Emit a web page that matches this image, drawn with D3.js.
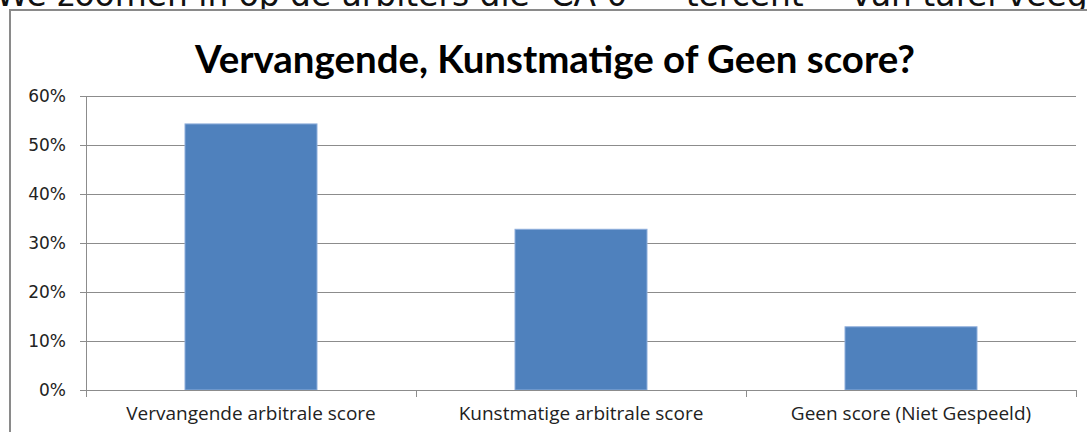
<!DOCTYPE html>
<html>
<head>
<meta charset="utf-8">
<script src="https://cdn.jsdelivr.net/npm/d3@7"></script>
<style>
  html, body { margin: 0; padding: 0; background: #fff; overflow: hidden; }
  svg { display: block; }
</style>
</head>
<body>
<div id="chart"></div>
<script>
;(function() {
  "use strict";

  // Data
  // ---------------------------------------------------------------------------
  var categories = ["Vervangende arbitrale score", "Kunstmatige arbitrale score", "Geen score (Niet Gespeeld)"];
  var shares = [0.543, 0.328, 0.129];
  var yTicks = [0, 0.1, 0.2, 0.3, 0.4, 0.5, 0.6];
  var title = "Vervangende, Kunstmatige of Geen score?";
  var pageLine = "We zoomen in op de arbiters die \u2018CA 0\u2019 \u2013 \u2018tercent\u2019 \u2013 van tafel veegt";

  // Dimensions
  // ---------------------------------------------------------------------------
  var width = 1087, height = 432;
  var plot = { left: 86, right: 1076, top: 96, bottom: 390 };

  var svg = d3.select("#chart").append("svg")
    .attr("width", width)
    .attr("height", height);

  svg.append("rect")
    .attr("width", width).attr("height", height)
    .attr("fill", "#fff");

  // Cropped line of document text above the chart (cut off in the original too)
  var p = svg.append("text")
    .attr("x", -4)
    .attr("y", 6)
    .attr("font-family", "DejaVu Sans")
    .attr("font-size", 28)
    .attr("fill", "#111")
    .text(pageLine);
  var pw = p.node().getComputedTextLength();
  p.attr("font-size", 28 * 1105 / pw);

  // Chart frame
  svg.append("rect")
    .attr("x", 10).attr("y", 10)
    .attr("width", 1200).attr("height", 600)
    .attr("fill", "#fff")
    .attr("stroke", "#8a8a8a")
    .attr("stroke-width", 2);

  // Title
  var t = svg.append("text")
    .attr("x", 555)
    .attr("y", 73)
    .attr("text-anchor", "middle")
    .attr("font-family", "Lato")
    .attr("font-weight", "bold")
    .attr("font-size", 33)
    .attr("fill", "#000")
    .text(title);
  var tw = t.node().getComputedTextLength();
  t.attr("font-size", 33 * 720 / tw);

  // Scales
  // ---------------------------------------------------------------------------
  var x = d3.scaleBand()
    .domain(categories)
    .range([plot.left, plot.right])
    .paddingInner(0.6)
    .paddingOuter(0.3);

  var y = d3.scaleLinear()
    .domain([0, 0.6])
    .range([plot.bottom, plot.top]);

  // Gridlines + y axis
  var yAxis = d3.axisLeft(y)
    .tickValues(yTicks)
    .tickSize(-(plot.right - plot.left))
    .tickPadding(14)
    .tickFormat(d3.format(".0%"));

  var gy = svg.append("g")
    .attr("transform", "translate(" + plot.left + ",0)")
    .call(yAxis);
  gy.select(".domain").remove();
  gy.selectAll(".tick line")
    .attr("x1", -6)
    .attr("stroke", "#8c8c8c")
    .attr("stroke-width", 1)
    .attr("shape-rendering", "crispEdges");
  gy.selectAll(".tick text")
    .attr("font-family", "DejaVu Sans")
    .attr("font-size", 17)
    .attr("fill", "#222")
    .attr("x", -20);

  svg.append("line")
    .attr("x1", plot.left).attr("x2", plot.left)
    .attr("y1", plot.top).attr("y2", plot.bottom)
    .attr("stroke", "#8c8c8c")
    .attr("shape-rendering", "crispEdges");

  // Bars
  svg.append("g").selectAll("rect")
    .data(shares)
    .enter().append("rect")
      .attr("x", function(d, i) { return x(categories[i]); })
      .attr("y", function(d) { return y(d); })
      .attr("width", x.bandwidth())
      .attr("height", function(d) { return y(0) - y(d); })
      .attr("fill", "#4f81bd")
      .attr("stroke", "#8eaedb")
      .attr("stroke-width", 1);

  // X axis
  var step = x.step();
  var boundaries = categories.map(function(c) { return x(c) - x.paddingOuter() * step; })
    .concat([plot.right]);

  svg.append("line")
    .attr("x1", plot.left).attr("x2", plot.right)
    .attr("y1", y(0)).attr("y2", y(0))
    .attr("stroke", "#8c8c8c")
    .attr("shape-rendering", "crispEdges");

  svg.append("g").selectAll("line")
    .data(boundaries)
    .enter().append("line")
      .attr("x1", function(d) { return Math.round(d) + 0.5; })
      .attr("x2", function(d) { return Math.round(d) + 0.5; })
      .attr("y1", y(0)).attr("y2", y(0) + 7)
      .attr("stroke", "#8c8c8c");

  svg.append("g").selectAll("text")
    .data(categories)
    .enter().append("text")
      .attr("x", function(d) { return x(d) + x.bandwidth() / 2; })
      .attr("y", 420)
      .attr("text-anchor", "middle")
      .attr("font-family", "Open Sans")
      .attr("font-size", 19)
      .attr("fill", "#222")
      .text(function(d) { return d; });
})();
</script>
</body>
</html>
